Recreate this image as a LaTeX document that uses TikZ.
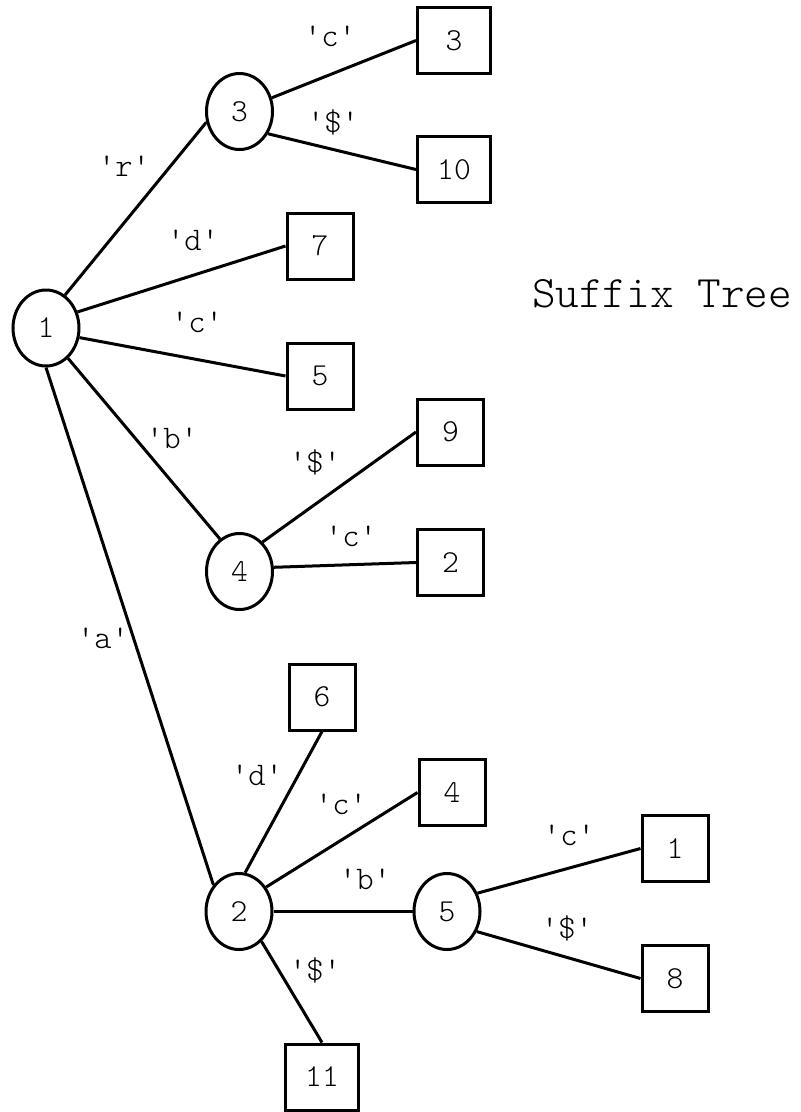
\documentclass[tikz,border=0pt]{standalone}
\usetikzlibrary{shapes.geometric}
\newcommand{\qt}[1]{\textquotesingle#1\textquotesingle}
\begin{document}
\begin{tikzpicture}[x=1pt,y=-1pt,
  txt/.style={font=\fontsize{32}{36}\fontfamily{lmtt}\fontseries{l}\selectfont},
  inode/.style={ellipse,draw,line width=3pt,minimum width=66pt,minimum height=76pt,inner sep=0pt,txt},
  leaf/.style={rectangle,draw,line width=3pt,minimum width=66pt,minimum height=66pt,inner sep=0pt,txt},
  wideleaf/.style={leaf,minimum width=73pt},
  lbl/.style={anchor=base,inner sep=0pt,font=\fontsize{33}{36}\fontfamily{lmtt}\fontseries{l}\selectfont},
  link/.style={line width=3pt}]
\useasboundingbox (0,0) rectangle (801,1112);

% internal nodes
\node[inode] (n1) at (46,328) {1};
\node[inode] (n3) at (239.5,111.5) {3};
\node[inode] (n4) at (239.5,571.5) {4};
\node[inode] (n2) at (239,911.5) {2};
\node[inode] (n5) at (447,911.5) {5};

% leaves
\node[wideleaf] (b3) at (454,40.5) {3};
\node[wideleaf] (b10) at (454,169.5) {10};
\node[leaf] (b7) at (320,246) {7};
\node[leaf] (b5) at (320,376) {5};
\node[leaf] (b9) at (450.5,432) {9};
\node[leaf] (b2) at (450.5,562.5) {2};
\node[leaf] (b6) at (322,697) {6};
\node[leaf] (b4) at (452,792.5) {4};
\node[leaf] (b1) at (675,848.5) {1};
\node[leaf] (b8) at (675,978.5) {8};
\node[wideleaf] (b11) at (322,1077) {11};

% edges
\draw[link] (n1.60) -- (n3.198);
\draw[link] (n1.27) -- (b7.west);
\draw[link] (n1.-16) -- (b5.west);
\draw[link] (n1.-54) -- (n4.121);
\draw[link] (n1.south) -- (n2.134);
\draw[link] (n3.23) -- (b3.west);
\draw[link] (n3.-38) -- (b10.west);
\draw[link] (n4.52) -- (b9.west);
\draw[link] (n4.7) -- (b2.west);
\draw[link] (n2.81) -- (b6.south);
\draw[link] (n2.42) -- (b4.west);
\draw[link] (n2.east) -- (n5.west);
\draw[link] (n2.-53) -- (b11.north);
\draw[link] (n5.31) -- (b1.west);
\draw[link] (n5.-34) -- (b8.west);

% edge labels
\node[lbl] (l1) at (330,46) {\qt{c}};
\node[lbl] (l2) at (333,132) {\qt{\$}};
\node[lbl] (l3) at (124,176) {\qt{r}};
\node[lbl] (l4) at (193,250) {\qt{d}};
\node[lbl] (l5) at (197,332) {\qt{c}};
\node[lbl] (l6) at (172,448) {\qt{b}};
\node[lbl] (l7) at (315,472) {\qt{\$}};
\node[lbl] (l8) at (351,546) {\qt{c}};
\node[lbl] (l9) at (103,648) {\qt{a}};
\node[lbl] (l10) at (257,785) {\qt{d}};
\node[lbl] (l11) at (341,814) {\qt{c}};
\node[lbl] (l12) at (365,889) {\qt{b}};
\node[lbl] (l13) at (569,845) {\qt{c}};
\node[lbl] (l14) at (567,938) {\qt{\$}};
\node[lbl] (l15) at (315,980) {\qt{\$}};

% title
\node[anchor=base,inner sep=0pt,font=\fontsize{45}{50}\fontfamily{lmtt}\fontseries{l}\selectfont] (title) at (662,307) {Suffix Tree};
\end{tikzpicture}
\end{document}
